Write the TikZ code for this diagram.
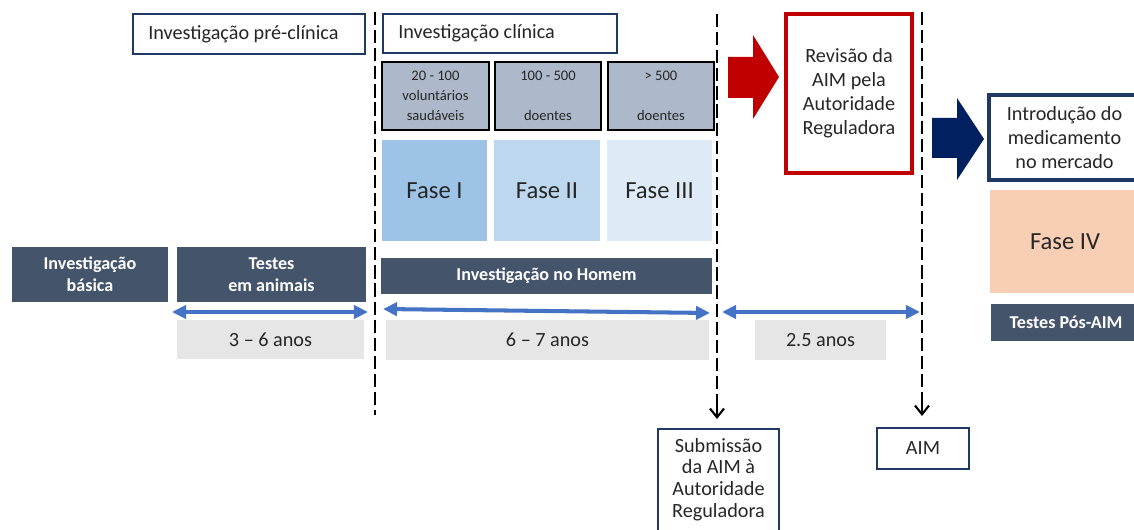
\documentclass[tikz,border=0pt]{standalone}
\usepackage{fontspec}
\setmainfont{Carlito}
\usetikzlibrary{arrows.meta}
\definecolor{navy}{HTML}{1F3864}
\definecolor{navyarrow}{HTML}{002060}
\definecolor{redc}{HTML}{C00000}
\definecolor{greyblue}{HTML}{ADB9CA}
\definecolor{faseA}{HTML}{9DC3E6}
\definecolor{faseB}{HTML}{BDD7EE}
\definecolor{faseC}{HTML}{DEEBF7}
\definecolor{slate}{HTML}{44546A}
\definecolor{lightg}{HTML}{E7E6E6}
\definecolor{peach}{HTML}{F8CFB4}
\definecolor{bluearr}{HTML}{4472C4}
\definecolor{txt}{HTML}{262626}
\tikzset{
  outl/.style={draw=navy, line width=1.2pt, fill=white, text=txt, align=center, inner sep=0pt,
    font=\fontsize{11.5}{13.6}\selectfont},
  lbl/.style={text=txt, inner sep=0pt, anchor=west, font=\fontsize{11.5}{13.6}\selectfont},
  smallg/.style={draw=black, line width=1.2pt, fill=greyblue, text=txt, align=center, inner sep=0pt,
    minimum height=1.36cm, font=\fontsize{8.3}{11.2}\selectfont},
  fasebox/.style={inner sep=0pt, minimum height=2.02cm, text=txt, font=\fontsize{14}{16}\selectfont},
  slatebox/.style={fill=slate, text=white, inner sep=0pt, align=center,
    font=\bfseries\fontsize{10.3}{12.5}\selectfont},
  durbox/.style={fill=lightg, text=txt, inner sep=0pt, font=\fontsize{11.5}{13}\selectfont},
  dline/.style={line width=1.3pt, dash pattern=on 7.5pt off 2.8pt},
  darr/.style={bluearr, line width=2.3pt, {Triangle[length=8pt,width=7.5pt]}-{Triangle[length=8pt,width=7.5pt]}},
  vtip/.style={-{Straight Barb[length=5pt,width=8pt,line width=1.2pt]}}
}
\begin{document}
\begin{tikzpicture}[x=0.02cm,y=-0.02cm]
\useasboundingbox (0,0) rectangle (1134,530);
\clip (0,0) rectangle (1134,530);

% header boxes
\node[outl, minimum width=4.64cm, minimum height=0.8cm] (pre) at (249,34) {};
\node[lbl] (pret) at (148,34) {Investigação pré-clínica};
\node[outl, minimum width=4.68cm, minimum height=0.78cm] (clin) at (500,33.5) {};
\node[lbl] (clint) at (398,33.5) {Investigação clínica};

% small grey boxes
\node[smallg, minimum width=2.14cm] (g1) at (435.5,96) {20 - 100\\voluntários\\saudáveis};
\node[smallg, minimum width=2.12cm] (g2) at (548,96) {100 - 500\\[5pt]\\[-5pt]doentes};
\node[smallg, minimum width=2.12cm] (g3) at (661,96) {> 500\\[5pt]\\[-5pt]doentes};

% phases
\node[fasebox, fill=faseA, minimum width=2.1cm] (f1) at (434.5,190.5) {Fase I};
\node[fasebox, fill=faseB, minimum width=2.12cm] (f2) at (547,190.5) {Fase II};
\node[fasebox, fill=faseC, minimum width=2.1cm] (f3) at (659.5,190.5) {Fase III};

% slate boxes
\node[slatebox, minimum width=3.12cm, minimum height=1.1cm] (bas) at (90,274.5) {Investigação\\básica};
\node[slatebox, minimum width=3.78cm, minimum height=1.1cm] (ani) at (271.5,274.5) {Testes\\em animais};
\node[slatebox, minimum width=6.62cm, minimum height=0.72cm] (hom) at (546.5,276) {Investigação no Homem};

% durations
\node[durbox, minimum width=3.74cm, minimum height=0.78cm] (d1) at (270.5,339.5) {3 – 6 anos};
\node[durbox, minimum width=6.46cm, minimum height=0.8cm] (d2) at (547.5,340) {6 – 7 anos};
\node[durbox, minimum width=2.62cm, minimum height=0.8cm] (d3) at (820.5,340) {2.5 anos};

% right side
\node[outl, draw=redc, line width=1.8pt, minimum width=2.52cm, minimum height=3.18cm] (rev) at (849,93.5) {Revisão da\\AIM pela\\Autoridade\\Reguladora};
\node[outl, draw=navy, line width=2.2pt, minimum width=3.02cm, minimum height=1.7cm] (intro) at (1064.5,137.5) {Introdução do\\medicamento\\no mercado};
\node[fasebox, fill=peach, minimum width=3.0cm, minimum height=2.06cm] (f4) at (1065,241.5) {Fase IV};
\node[slatebox, minimum width=3.0cm, minimum height=0.74cm] (pos) at (1066,322.5) {Testes Pós-AIM};

% bottom boxes
\node[outl, line width=1.5pt, minimum width=2.42cm, minimum height=2.22cm] (sub) at (718.5,484.5) {};
\node[text=txt, inner sep=0pt, align=center, anchor=north, font=\fontsize{11.5}{12.3}\selectfont] (subt) at (718.5,438) {Submissão\\da AIM à\\Autoridade\\Reguladora};
\node[outl, line width=1.5pt, minimum width=1.84cm, minimum height=0.82cm] (aim) at (923,448.5) {AIM};

% block arrows
\fill[redc] (728,57) -- (753,57) -- (753,35) -- (779,77) -- (753,119) -- (753,98) -- (728,98) -- cycle;
\fill[navyarrow] (932,118) -- (957,118) -- (957,98) -- (984,139) -- (957,180) -- (957,158) -- (932,158) -- cycle;

% dashed lines
\coordinate (l1t) at (375,12);
\coordinate (l1b) at (375,415);
\coordinate (l2t) at (717,14);
\coordinate (l2b) at (717,419);
\coordinate (l3t) at (922,12);
\coordinate (l3b) at (922,416);
\draw[dline] (l1t) -- (l1b);
\draw[dline] (l2t) -- (717,406);
\draw[dline] (l3t) -- (922,403);
\draw[vtip, line width=1.2pt] (717,404) -- (l2b);
\draw[vtip, line width=1.2pt] (922,401) -- (l3b);

% double arrows
\coordinate (a1l) at (172,312);
\coordinate (a1r) at (368,312);
\coordinate (a2l) at (383,309);
\coordinate (a2r) at (710,313);
\coordinate (a3l) at (722,312);
\coordinate (a3r) at (920,312);
\draw[darr] (a1l) -- (a1r);
\draw[darr] (a2l) -- (a2r);
\draw[darr] (a3l) -- (a3r);
\end{tikzpicture}
\end{document}
